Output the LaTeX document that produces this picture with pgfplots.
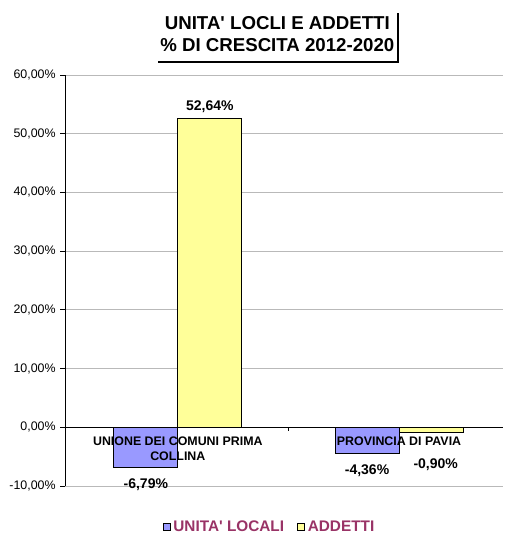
\documentclass[border=0pt]{standalone}
\usepackage{fontspec}
\setmainfont{Liberation Sans}
\usepackage{pgfplots}
\pgfplotsset{compat=1.18}
\definecolor{barblue}{HTML}{9999FF}
\definecolor{baryellow}{HTML}{FFFF99}
\definecolor{legtext}{HTML}{993366}
\begin{document}
\begin{tikzpicture}
  % title with shadow frame
  \node[align=center, font=\bfseries\fontsize{14}{17}\selectfont] at (208pt,375pt)
    {UNITA\textquotesingle{} LOCLI E ADDETTI\\\% DI CRESCITA 2012-2020};
  \draw[line width=2.2pt] (118.5pt,354pt) -- (298.5pt,354pt) -- (298.5pt,391pt);
  \begin{axis}[
    at={(48.75pt,36pt)}, anchor=south west,
    scale only axis, width=328.5pt, height=308.25pt,
    ybar, bar width=48pt,
    xmin=-0.51, xmax=1.47,
    ymin=-10, ymax=60,
    ytick={-10,0,...,60},
    xtick=\empty,
    axis x line=none,
    axis y line*=left,
    y axis line style={-, black, line width=0.6pt},
    ytick style={black, line width=0.6pt},
    tick align=outside, major tick length=3.5pt,
    ymajorgrids, grid style={gray!55, line width=0.6pt},
    /pgf/number format/assume math mode=true,
    yticklabel={\pgfmathprintnumber[fixed,fixed zerofill,precision=2,use comma]{\tick}\%},
    yticklabel style={font=\fontsize{9.3}{11}\selectfont},
    nodes near coords={\pgfmathprintnumber[fixed,fixed zerofill,precision=2,use comma]{\pgfplotspointmeta}\%},
    nodes near coords style={font=\bfseries\fontsize{10.5}{12}\selectfont, black, inner sep=4pt},
    legend style={at={(0.468,0)}, anchor=north, yshift=-22pt, draw=none, fill=none,
      legend columns=2, font=\bfseries\fontsize{11.5}{13}\selectfont, text=legtext,
      /tikz/every even column/.append style={column sep=8pt}},
    legend image code/.code={\draw[#1, draw=black, line width=0.6pt] (0pt,-2.6pt) rectangle (5.2pt,2.6pt);},
  ]
    \addplot[fill=barblue, draw=black, line width=0.5pt, bar shift=-24pt,
      nodes near coords style={yshift=-4.5pt}] coordinates {(0,-6.79) (1,-4.36)};
    \addplot[fill=baryellow, draw=black, line width=0.5pt, bar shift=24pt] coordinates {(0,52.64)};
    \addplot[fill=baryellow, draw=black, line width=0.5pt, bar shift=24pt, forget plot,
      nodes near coords style={yshift=-15pt, xshift=3.5pt}] coordinates {(1,-0.90)};
    \legend{UNITA\textquotesingle{} LOCALI, ADDETTI}
    \draw[black, line width=0.6pt] (axis cs:-0.51,0) -- (axis cs:1.47,0);
    \draw[black, line width=0.6pt] (axis cs:0.5,0) -- ([yshift=-3pt]axis cs:0.5,0);
    \node[anchor=north, align=center, inner sep=0pt, yshift=-7pt,
      font=\bfseries\fontsize{9.3}{11.5}\selectfont] at (axis cs:0,0)
      {UNIONE DEI COMUNI PRIMA\\COLLINA};
    \node[anchor=north, align=center, inner sep=0pt, yshift=-7pt,
      font=\bfseries\fontsize{9.3}{11.5}\selectfont] at (axis cs:1,0)
      {PROVINCIA DI PAVIA};
  \end{axis}
  \pgfresetboundingbox
  \path[use as bounding box] (0,0) rectangle (378pt,400.5pt);
\end{tikzpicture}
\end{document}
